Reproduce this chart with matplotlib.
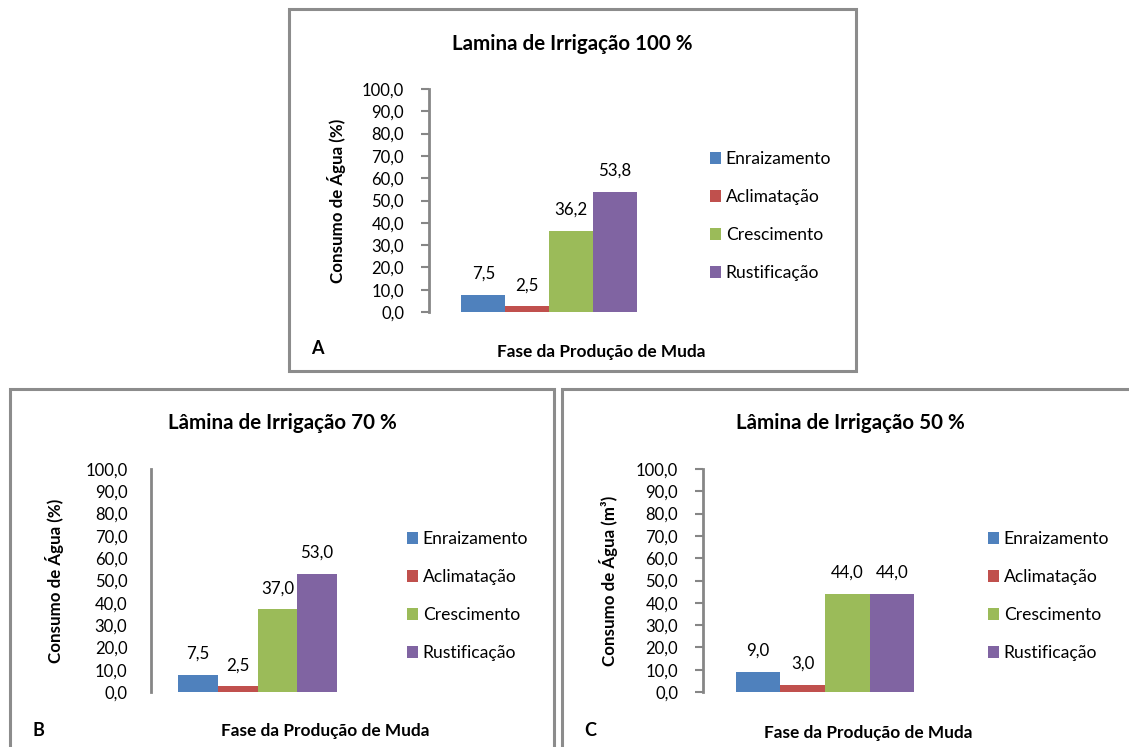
import numpy as np
import matplotlib
matplotlib.use("Agg")
import matplotlib.pyplot as plt
from matplotlib.patches import Rectangle, Patch

plt.rcParams["font.family"] = ["Lato", "DejaVu Sans"]

W, H = 1129, 747

phases = ["Enraizamento", "Aclimatação", "Crescimento", "Rustificação"]
colors = ["#4F81BD", "#C0504D", "#9BBB59", "#8064A2"]

values_a = [7.5, 2.5, 36.2, 53.8]
values_b = [7.5, 2.5, 37.0, 53.0]
values_c = [9.0, 3.0, 44.0, 44.0]

yticks = np.arange(0, 101, 10)
ytick_labels = [f"{v:.1f}".replace(".", ",") for v in yticks]

PANELS = [
    dict(values=values_a, title="Lamina de Irrigação 100 %", ylabel="Consumo de Água (%)", tag="A",
         box=(289, 9, 856, 371), ax=(429, 89, 669, 312), group=0.73, ticks=True,
         title_xy=(572, 44), ylabel_x=337, xlabel_xy=(601, 352), tag_xy=(317, 349),
         legend_xy=(710, 216)),
    dict(values=values_b, title="Lâmina de Irrigação 70 %", ylabel="Consumo de Água (%)", tag="B",
         box=(10, 389, 554, 760), ax=(151, 469, 364, 692), group=0.746, ticks=False,
         title_xy=(282, 423), ylabel_x=55, xlabel_xy=(325, 731), tag_xy=(38, 731),
         legend_xy=(407, 596)),
    dict(values=values_c, title="Lâmina de Irrigação 50 %", ylabel="Consumo de Água (m³)", tag="C",
         box=(562, 389, 1140, 760), ax=(703, 469, 947, 692), group=0.73, ticks=True,
         title_xy=(850, 423), ylabel_x=608, xlabel_xy=(868, 733), tag_xy=(590, 731),
         legend_xy=(988, 596)),
]


def fx(px):
    return px / W


def fy(py):
    return 1 - py / H


fig = plt.figure(figsize=(W / 100, H / 100), dpi=100)

for p in PANELS:
    x0, y0, x1, y1 = p["box"]
    fig.patches.append(Rectangle((fx(x0), fy(y1)), fx(x1 - x0), (y1 - y0) / H,
                                 transform=fig.transFigure, fill=False,
                                 edgecolor="#8C8C8C", linewidth=2.2))

    ax0, ay0, ax1, ay1 = p["ax"]
    ax = fig.add_axes([fx(ax0), fy(ay1), fx(ax1 - ax0), (ay1 - ay0) / H])
    bw = p["group"] / len(phases)
    xs = (np.arange(len(phases)) - (len(phases) - 1) / 2) * bw
    for x, v, c, name in zip(xs, p["values"], colors, phases):
        ax.bar(x, v, width=bw, color=c, label=name)
        ax.annotate(f"{v:.1f}".replace(".", ","), (x, v), xytext=(0, 9.5),
                    textcoords="offset points", ha="center", va="bottom",
                    fontsize=12.2)
    ax.set_xlim(-0.5, 0.5)
    ax.set_ylim(0, 100)
    ax.set_yticks(yticks)
    ax.set_yticklabels(ytick_labels, fontsize=12)
    ax.set_xticks([])
    for s in ["top", "right", "bottom"]:
        ax.spines[s].set_visible(False)
    ax.spines["left"].set_color("#868686")
    ax.spines["left"].set_linewidth(2)
    if p["ticks"]:
        ax.tick_params(axis="y", length=6, width=1.5, color="#868686", pad=12)
    else:
        ax.tick_params(axis="y", length=0, pad=17)
    ax.patch.set_alpha(0)

    handles = [Patch(facecolor=c, label=n) for c, n in zip(colors, phases)]
    fig.legend(handles=handles, loc="center left",
               bbox_to_anchor=(fx(p["legend_xy"][0]), fy(p["legend_xy"][1])),
               frameon=False, fontsize=12.6, handlelength=0.65, handleheight=0.65,
               handletextpad=0.25, labelspacing=1.25, borderpad=0, borderaxespad=0)

    fig.text(fx(p["title_xy"][0]), fy(p["title_xy"][1]), p["title"],
             ha="center", va="center", fontsize=14.8, fontweight="bold")
    fig.text(fx(p["ylabel_x"]), fy((ay0 + ay1) / 2), p["ylabel"], rotation=90,
             ha="center", va="center", fontsize=12.2, fontweight="bold")
    fig.text(fx(p["xlabel_xy"][0]), fy(p["xlabel_xy"][1]), "Fase da Produção de Muda",
             ha="center", va="center", fontsize=12.4, fontweight="bold")
    fig.text(fx(p["tag_xy"][0]), fy(p["tag_xy"][1]), p["tag"],
             ha="center", va="center", fontsize=13, fontweight="bold")

fig.savefig("out.png", dpi=100)
